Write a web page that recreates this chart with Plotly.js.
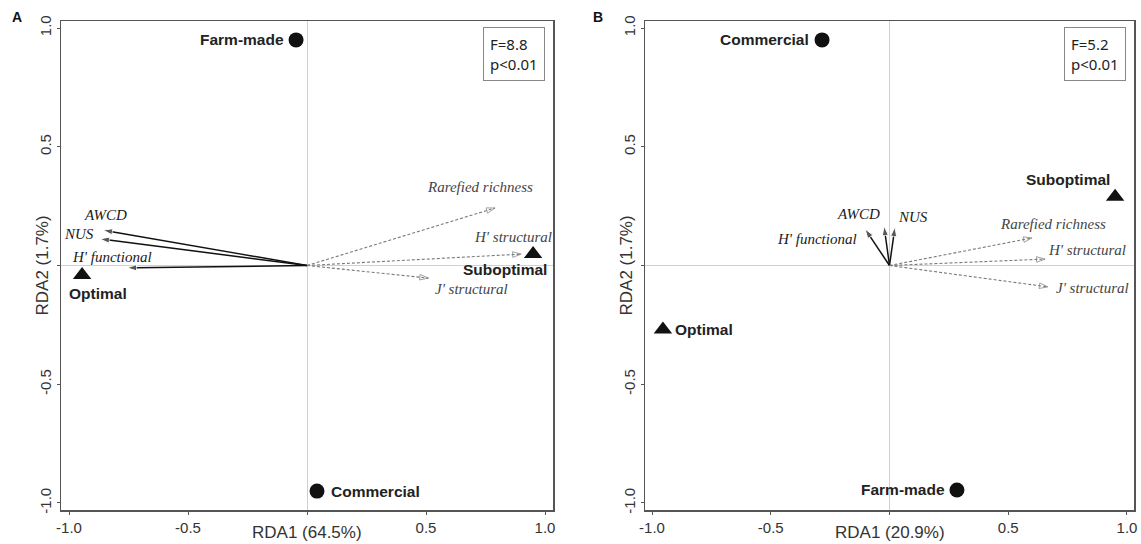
<!DOCTYPE html>
<html>
<head>
<meta charset="utf-8">
<script src="https://cdn.plot.ly/plotly-3.0.1.min.js"></script>
<style>html,body{margin:0;padding:0;background:#fff;}#chart{width:1141px;height:544px;}</style>
</head>
<body>
<div id="chart"></div>
<script>
// ---------- DATA ----------
// Panel A
const aFeedNames = ['Farm-made', 'Commercial'];
const aFeedX = [-0.046, 0.042];
const aFeedY = [0.95, -0.95];
const aCondNames = ['Optimal', 'Suboptimal'];
const aCondX = [-0.945, 0.95];
const aCondY = [-0.04, 0.048];
const aSolidNames = ['AWCD', 'NUS', "H' functional"];
const aSolidX = [-0.857, -0.87, -0.756];
const aSolidY = [0.149, 0.112, -0.01];
const aDashNames = ['Rarefied richness', "H' structural", "J' structural"];
const aDashX = [0.79, 0.90, 0.51];
const aDashY = [0.242, 0.048, -0.053];
const aStat = ['F=8.8', 'p<0.01'];
const aXTitle = 'RDA1 (64.5%)';
const aYTitle = 'RDA2 (1.7%)';

// Panel B
const bFeedNames = ['Commercial', 'Farm-made'];
const bFeedX = [-0.284, 0.284];
const bFeedY = [0.95, -0.945];
const bCondNames = ['Optimal', 'Suboptimal'];
const bCondX = [-0.954, 0.95];
const bCondY = [-0.27, 0.29];
const bSolidNames = ['AWCD', 'NUS', "H' functional"];
const bSolidX = [-0.023, 0.023, -0.103];
const bSolidY = [0.166, 0.162, 0.154];
const bDashNames = ['Rarefied richness', "H' structural", "J' structural"];
const bDashX = [0.60, 0.655, 0.667];
const bDashY = [0.116, 0.027, -0.09];
const bStat = ['F=5.2', 'p<0.01'];
const bXTitle = 'RDA1 (20.9%)';
const bYTitle = 'RDA2 (1.7%)';

const tickVals = [-1, -0.5, 0, 0.5, 1];
const tickText = ['-1.0', '-0.5', '', '0.5', '1.0'];

// ---------- STYLE ----------
const SANS = 'Liberation Sans, Arial, sans-serif';
const SERIF = 'Liberation Serif, Times New Roman, serif';
const CALI = 'Noto Sans, Open Sans, sans-serif';

// label offsets (pixels) relative to marker / arrow tip
const aFeedLbl = [{xa:'right', xs:-11, ys:0}, {xa:'left', xs:13, ys:0}];
const aCondLbl = [{xa:'center', xs:16, ys:-18}, {xa:'center', xs:-28, ys:-15}];
const aSolidLbl = [{xs:2, ys:15}, {xs:-21, ys:5}, {xs:-15, ys:11}];
const aDashLbl = [{xs:-15, ys:21}, {xs:-8, ys:17}, {xs:43, ys:-11}];
const bFeedLbl = [{xa:'right', xs:-12, ys:0}, {xa:'right', xs:-11, ys:0}];
const bCondLbl = [{xa:'left', xs:11, ys:0}, {xa:'center', xs:-47, ys:17}];
const bSolidLbl = [{xs:-26, ys:12}, {xs:18, ys:10}, {xs:-48, ys:-10}];
const bDashLbl = [{xs:21, ys:14}, {xs:42, ys:9}, {xs:45, ys:-1}];

const traces = [];
const annotations = [];

function addPanel(xa, ya, feedN, feedX, feedY, feedLbl, condN, condX, condY, condLbl,
                  solN, solX, solY, solLbl, dashN, dashX, dashY, dashLbl, stat, xTitle, yTitle, yTitlePx) {
  // solid arrows
  solN.forEach((n, i) => {
    traces.push({
      x: [0, solX[i]], y: [0, solY[i]], xaxis: xa, yaxis: ya, mode: 'lines+markers',
      line: {color: '#111', width: 1.5},
      marker: {symbol: 'arrow', size: [0, 10], angleref: 'previous', color: '#111'},
      hoverinfo: 'skip', showlegend: false
    });
    annotations.push({
      x: solX[i], y: solY[i], xref: xa, yref: ya, text: n, showarrow: false, borderpad: 0,
      xanchor: 'center', yanchor: 'middle', xshift: solLbl[i].xs, yshift: solLbl[i].ys,
      font: {family: SERIF, size: 15, color: '#1a1a1a', style: 'italic'}
    });
  });
  // dashed arrows
  dashN.forEach((n, i) => {
    traces.push({
      x: [0, dashX[i]], y: [0, dashY[i]], xaxis: xa, yaxis: ya, mode: 'lines+markers',
      line: {color: '#7a7a7a', width: 1.1, dash: '3px,2px'},
      marker: {symbol: 'arrow-open', size: [0, 9], angleref: 'previous', color: '#7a7a7a',
               line: {color: '#7a7a7a', width: 1}},
      hoverinfo: 'skip', showlegend: false
    });
    annotations.push({
      x: dashX[i], y: dashY[i], xref: xa, yref: ya, text: n, showarrow: false, borderpad: 0,
      xanchor: 'center', yanchor: 'middle', xshift: dashLbl[i].xs, yshift: dashLbl[i].ys,
      font: {family: SERIF, size: 15, color: '#444', style: 'italic'}
    });
  });
  // feed points (circles)
  traces.push({
    x: feedX, y: feedY, xaxis: xa, yaxis: ya, mode: 'markers',
    marker: {symbol: 'circle', size: 15, color: '#111'}, hoverinfo: 'skip', showlegend: false
  });
  feedN.forEach((n, i) => {
    annotations.push({
      x: feedX[i], y: feedY[i], xref: xa, yref: ya, text: '<b>' + n + '</b>', showarrow: false, borderpad: 0,
      xanchor: feedLbl[i].xa, yanchor: 'middle', xshift: feedLbl[i].xs, yshift: feedLbl[i].ys,
      font: {family: SANS, size: 15.5, color: '#222'}
    });
  });
  // condition points (triangles)
  traces.push({
    x: condX, y: condY, xaxis: xa, yaxis: ya, mode: 'markers',
    marker: {symbol: 'triangle-up', size: 16, color: '#111'}, hoverinfo: 'skip', showlegend: false
  });
  condN.forEach((n, i) => {
    annotations.push({
      x: condX[i], y: condY[i], xref: xa, yref: ya, text: '<b>' + n + '</b>', showarrow: false, borderpad: 0,
      xanchor: condLbl[i].xa, yanchor: 'middle', xshift: condLbl[i].xs, yshift: condLbl[i].ys,
      font: {family: SANS, size: 15.5, color: '#222'}
    });
  });
  // stat box
  annotations.push({
    x: 0.984, y: 0.988, xref: xa + ' domain', yref: ya + ' domain',
    text: stat.map(s => s.replace('<', '&lt;')).join('<br>'), showarrow: false,
    xanchor: 'right', yanchor: 'top', align: 'left',
    bordercolor: '#888', borderwidth: 1, borderpad: 6, bgcolor: '#fff',
    font: {family: CALI, size: 15, color: '#222'}
  });
  // axis titles
  annotations.push({
    x: 0, y: (544 - 532) / 544, xref: xa, yref: 'paper', text: xTitle, showarrow: false,
    xanchor: 'center', yanchor: 'middle', font: {family: SANS, size: 17, color: '#333'}
  });
  annotations.push({
    x: yTitlePx / 1141, y: 0, xref: 'paper', yref: ya, text: yTitle, showarrow: false,
    textangle: -90, xanchor: 'center', yanchor: 'middle', font: {family: SANS, size: 17, color: '#333'}
  });
}

addPanel('x', 'y', aFeedNames, aFeedX, aFeedY, aFeedLbl, aCondNames, aCondX, aCondY, aCondLbl,
         aSolidNames, aSolidX, aSolidY, aSolidLbl, aDashNames, aDashX, aDashY, aDashLbl,
         aStat, aXTitle, aYTitle, 42);
addPanel('x2', 'y2', bFeedNames, bFeedX, bFeedY, bFeedLbl, bCondNames, bCondX, bCondY, bCondLbl,
         bSolidNames, bSolidX, bSolidY, bSolidLbl, bDashNames, bDashX, bDashY, bDashLbl,
         bStat, bXTitle, bYTitle, 626);

// panel letters
annotations.push({x: 17 / 1141, y: (544 - 17) / 544, xref: 'paper', yref: 'paper', text: '<b>A</b>',
  showarrow: false, xanchor: 'center', yanchor: 'middle', font: {family: SANS, size: 14, color: '#111'}});
annotations.push({x: 598 / 1141, y: (544 - 17) / 544, xref: 'paper', yref: 'paper', text: '<b>B</b>',
  showarrow: false, xanchor: 'center', yanchor: 'middle', font: {family: SANS, size: 14, color: '#111'}});

function xAxis(domain, half) {
  return {
    domain: domain, range: [-half, half], tickvals: tickVals, ticktext: tickText,
    ticks: 'outside', ticklen: 3, tickcolor: '#555', tickwidth: 1,
    showline: true, linecolor: '#555', linewidth: 1.5, mirror: true,
    showgrid: false, zeroline: true, zerolinecolor: '#d0d0d0', zerolinewidth: 1,
    tickfont: {family: SANS, size: 15, color: '#333'}, fixedrange: true
  };
}
function yAxis(anchor) {
  return {
    anchor: anchor, domain: [34 / 544, 523 / 544], range: [-1.0295, 1.0295],
    tickvals: tickVals, ticktext: tickText, tickangle: -90,
    ticks: 'outside', ticklen: 3, tickcolor: '#555', tickwidth: 1,
    showline: true, linecolor: '#555', linewidth: 1.5, mirror: true,
    showgrid: false, zeroline: true, zerolinecolor: '#d0d0d0', zerolinewidth: 1,
    tickfont: {family: SANS, size: 15, color: '#333'}, fixedrange: true
  };
}

const layout = {
  width: 1141, height: 544,
  margin: {l: 0, r: 0, t: 0, b: 0},
  paper_bgcolor: '#fff', plot_bgcolor: '#fff',
  showlegend: false,
  xaxis: Object.assign(xAxis([61 / 1141, 553 / 1141], 1.0336), {anchor: 'y'}),
  yaxis: yAxis('x'),
  xaxis2: Object.assign(xAxis([645 / 1141, 1134 / 1141], 1.0295), {anchor: 'y2'}),
  yaxis2: yAxis('x2'),
  annotations: annotations
};

Plotly.newPlot('chart', traces, layout, {displayModeBar: false, staticPlot: true});
</script>
</body>
</html>
